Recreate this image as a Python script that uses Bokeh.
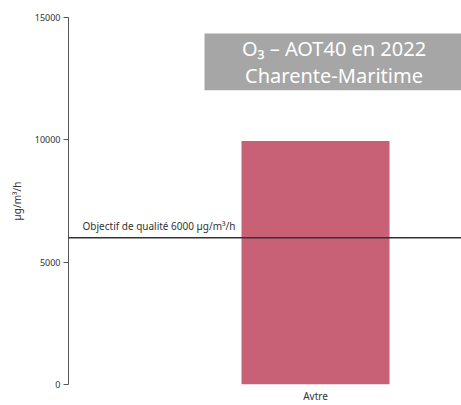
from bokeh.plotting import figure
from bokeh.models import Range1d, FixedTicker, BoxAnnotation, Label, Span
from bokeh.embed import file_html
from bokeh.resources import INLINE

categories = ["Avtre"]
values = [9950]
objective = 6000
y_ticks = [0, 5000, 10000, 15000]
title_lines = ["O₃ – AOT40 en 2022", "Charente-Maritime"]
objective_label = "Objectif de qualité 6000 µg/m³/h"
y_label = "µg/m³/h"

FONT = "Noto Sans"
xs = list(range(len(categories)))

X0, X1 = -1.335, 0.789
p = figure(width=461, height=405, output_backend="svg", toolbar_location=None,
           x_range=Range1d(X0, X1), y_range=Range1d(0, 15000),
           min_border_left=68, min_border_right=0, min_border_top=17, min_border_bottom=20)

p.vbar(x=xs, top=values, width=0.8, color="#C86076", line_color=None)

p.add_layout(Span(location=objective, dimension="width", line_color="#333333", line_width=1.5))
p.add_layout(Label(x=-1.259, y=objective, y_offset=5, text=objective_label,
                   text_font=FONT, text_font_size="10px", text_color="#333333",
                   text_baseline="bottom", text_align="left"))

p.add_layout(BoxAnnotation(left=-0.600, right=X1, top=14348, bottom=12025,
                           fill_color="#A6A6A6", fill_alpha=1.0, line_color=None))
for txt, yy in zip(title_lines, [13715, 12636]):
    p.add_layout(Label(x=0.100, y=yy, text=txt, text_font=FONT, text_font_size="20px",
                       text_color="white", text_align="center", text_baseline="middle"))

p.xgrid.visible = False
p.ygrid.visible = False
p.outline_line_color = None

ya = p.yaxis[0]
ya.ticker = FixedTicker(ticks=y_ticks)
ya.minor_tick_line_color = None
ya.major_tick_out = 5
ya.major_tick_in = 0
ya.axis_line_color = "#555555"
ya.major_tick_line_color = "#555555"
ya.major_label_text_font = FONT
ya.major_label_text_font_size = "9px"
ya.major_label_text_color = "#333333"
ya.major_label_standoff = 3
ya.axis_label = y_label
ya.axis_label_text_font = FONT
ya.axis_label_text_font_size = "10px"
ya.axis_label_text_font_style = "normal"
ya.axis_label_text_color = "#333333"
ya.axis_label_standoff = 8

xa = p.xaxis[0]
xa.ticker = FixedTicker(ticks=xs)
xa.major_label_overrides = {i: c for i, c in zip(xs, categories)}
xa.axis_line_color = None
xa.major_tick_line_color = None
xa.minor_tick_line_color = None
xa.major_tick_out = 0
xa.major_tick_in = 0
xa.major_label_text_font = FONT
xa.major_label_text_font_size = "10px"
xa.major_label_text_color = "#333333"
xa.major_label_standoff = 4

open("out.html", "w").write(file_html(p, INLINE))
